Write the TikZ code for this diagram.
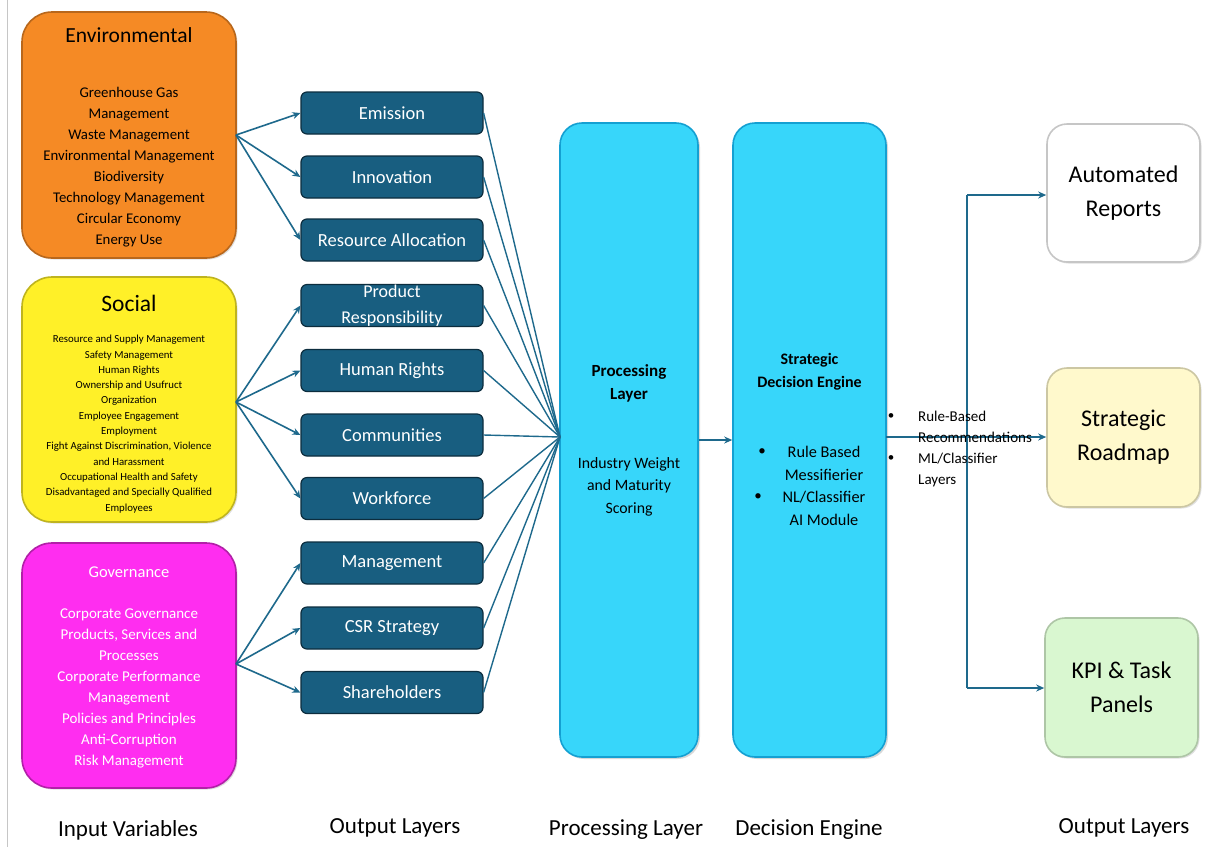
\documentclass[tikz,border=0pt]{standalone}
\usepackage{fontspec}
\setmainfont{Carlito}
\usetikzlibrary{arrows.meta,shadows}
\definecolor{envO}{RGB}{245,138,37}
\definecolor{socY}{RGB}{255,240,40}
\definecolor{govM}{RGB}{255,45,240}
\definecolor{tealB}{RGB}{24,94,128}
\definecolor{tealD}{RGB}{12,45,62}
\definecolor{lineC}{RGB}{30,105,140}
\definecolor{cyanL}{RGB}{55,214,250}
\definecolor{cyanD}{RGB}{20,160,210}
\definecolor{roadY}{RGB}{255,249,204}
\definecolor{kpiG}{RGB}{217,247,208}
\newcommand{\fs}[2]{\fontsize{#1}{#2}\selectfont}
\tikzset{
  catbox/.style={rectangle, rounded corners=30pt, line width=1.6pt, inner sep=0pt,
     drop shadow={opacity=0.25, shadow xshift=1.5pt, shadow yshift=-1.5pt}},
  midbox/.style={rectangle, rounded corners=6pt, fill=tealB, draw=tealD, line width=1.2pt,
     minimum width=182pt, minimum height=42pt, inner sep=0pt, text=white, font=\fs{18.5}{20}},
  bigbox/.style={rectangle, rounded corners=22pt, fill=cyanL, draw=cyanD, line width=1.6pt,
     inner sep=0pt, drop shadow={opacity=0.3, shadow xshift=2pt, shadow yshift=-2pt}},
  outbox/.style={rectangle, rounded corners=20pt, line width=1.6pt, inner sep=0pt,
     minimum width=153pt, minimum height=138pt, align=center, font=\fs{24}{34},
     drop shadow={opacity=0.25, shadow xshift=1.5pt, shadow yshift=-1.5pt}},
  conn/.style={draw=lineC, line width=1.6pt},
  arr/.style={conn, -{Stealth[length=8pt,width=7pt]}},
  lbl/.style={inner sep=0pt, align=center},
  bottom/.style={inner sep=0pt, font=\fs{23}{25}}
}
\begin{document}
\begin{tikzpicture}[x=1pt,y=-1pt]
\useasboundingbox[fill=white] (0,0) rectangle (1206,847);
\draw[gray!45, line width=0.8pt] (7,0) -- (7,847);

% category boxes
\node[catbox, fill=envO, draw=envO!75!black, minimum width=214pt, minimum height=246pt] (env) at (129,135) {};
\node[catbox, fill=socY, draw=socY!75!black, minimum width=214pt, minimum height=245pt] (soc) at (129,399.5) {};
\node[catbox, fill=govM, draw=govM!70!black, minimum width=214pt, minimum height=245pt] (gov) at (129,665.5) {};

\node[lbl, font=\fs{21.5}{23}] (envT) at (129,35) {Environmental};
\node[lbl, font=\fs{14.8}{20.9}] (envI) at (129,167) {Greenhouse Gas\\Management\\Waste Management\\Environmental Management\\Biodiversity\\Technology Management\\Circular Economy\\Energy Use};

\node[lbl, font=\fs{23.5}{25}] (socT) at (129,303) {Social};
\node[lbl, font=\fs{10.8}{15.3}] (socI) at (129,424) {Resource and Supply Management\\Safety Management\\Human Rights\\Ownership and Usufruct\\Organization\\Employee Engagement\\Employment\\Fight Against Discrimination, Violence\\and Harassment\\Occupational Health and Safety\\Disadvantaged and Specially Qualified\\Employees};

\node[lbl, font=\fs{16.5}{18}, text=white] (govT) at (129,572) {Governance};
\node[lbl, font=\fs{15}{21}, text=white] (govI) at (129,688.5) {Corporate Governance\\Products, Services and\\Processes\\Corporate Performance\\Management\\Policies and Principles\\Anti-Corruption\\Risk Management};

% middle boxes
\node[midbox] (m1) at (392,113) {Emission};
\node[midbox] (m2) at (392,177) {Innovation};
\node[midbox] (m3) at (392,240) {Resource Allocation};
\node[midbox, align=center, font=\fs{18}{26}] (m4) at (392,305.5) {Product\\Responsibility};
\node[midbox] (m5) at (392,370.5) {Human Rights};
\node[midbox] (m6) at (392,435) {Communities};
\node[midbox] (m7) at (392,498.5) {Workforce};
\node[midbox] (m8) at (392,563) {Management};
\node[midbox] (m9) at (392,628) {CSR Strategy};
\node[midbox] (m10) at (392,692.5) {Shareholders};

% sources
\coordinate (envS) at (236,135);
\coordinate (socS) at (236,402);
\coordinate (govS) at (236,664);
\foreach \m in {m1,m2,m3} \draw[arr] (envS) -- (\m.west);
\foreach \m in {m4,m5,m6,m7} \draw[arr] (socS) -- (\m.west);
\foreach \m in {m8,m9,m10} \draw[arr] (govS) -- (\m.west);

% processing & decision
\node[bigbox, minimum width=138pt, minimum height=634pt] (proc) at (629,440) {};
\node[bigbox, minimum width=153pt, minimum height=634pt] (dec) at (809.5,440) {};

\coordinate (conv) at (560,437);
\foreach \m in {m1,m2,m3,m4,m5,m6,m7,m8,m9,m10} \draw[conn, line width=1.4pt] (\m.east) -- (conv);

\node[lbl, font=\bfseries\fs{17}{23}] (procT) at (629,383.5) {Processing\\Layer};
\node[lbl, font=\fs{15.8}{22.5}] (procI) at (629,486.5) {Industry Weight\\and Maturity\\Scoring};

\node[lbl, font=\bfseries\fs{16}{23}] (decT) at (809.5,371.5) {Strategic\\Decision Engine};
\node[lbl, font=\fs{16.3}{22.7}] (decI) at (824,486) {Rule Based\\Messifierier\\NL/Classifier\\AI Module};
\node[lbl, font=\fs{15}{18}] (db1) at (762,452) {\textbullet};
\node[lbl, font=\fs{15}{18}] (db2) at (758,497) {\textbullet};

\draw[arr] (proc.east |- 0,440) -- (dec.west |- 0,440);

% outputs
\node[outbox, fill=white, draw=gray!45] (ar) at (1123.5,193) {Automated\\Reports};
\node[outbox, fill=roadY, draw=roadY!80!black, minimum height=139pt] (sr) at (1123.5,437.5) {Strategic\\Roadmap};
\node[outbox, fill=kpiG, draw=kpiG!80!black, minimum height=139pt] (kpi) at (1121.5,687.5) {KPI \& Task\\Panels};

\coordinate (decO) at (886,437);
\coordinate (bus) at (967,437);
\coordinate (busT) at (967,195);
\coordinate (busB) at (967,688);
\draw[conn] (decO) -- (bus);
\draw[conn] (busT) -- (busB);
\draw[arr] (busT) -- (ar.west |- busT);
\draw[arr] (bus) -- (sr.west |- bus);
\draw[arr] (busB) -- (kpi.west |- busB);

\node[lbl, align=left, anchor=west, font=\fs{15}{21}] (recs) at (918,448.5) {Rule-Based\\Recommendations\\ML/Classifier\\Layers};
\node[lbl, font=\fs{13}{15}] (rb1) at (891,417) {\textbullet};
\node[lbl, font=\fs{13}{15}] (rb2) at (891,459) {\textbullet};

% bottom labels
\node[bottom] (b1) at (128,830) {Input Variables};
\node[bottom] (b2) at (395,828) {Output Layers};
\node[bottom] (b3) at (626,830) {Processing Layer};
\node[bottom] (b4) at (809,830) {Decision Engine};
\node[bottom] (b5) at (1124,828) {Output Layers};
\end{tikzpicture}
\end{document}
